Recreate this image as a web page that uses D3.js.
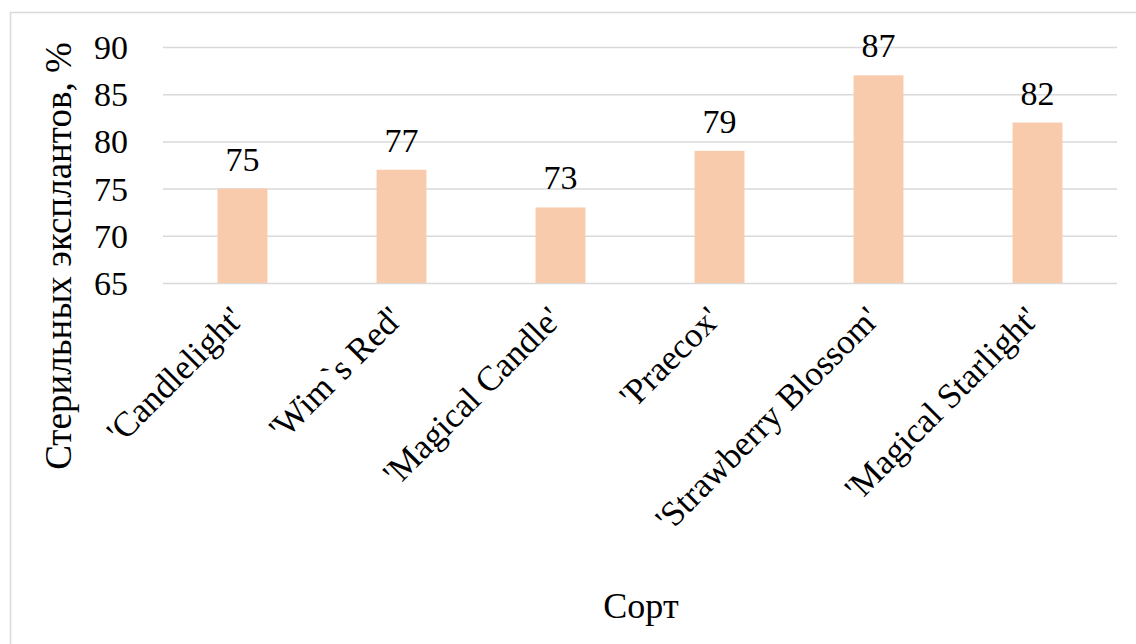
<!DOCTYPE html>
<meta charset="utf-8">
<style>
body { margin: 0; background: #fff; }
.grid line { stroke: #d9d9d9; stroke-width: 1.5; }
.grid .domain { display: none; }
.bar { fill: #f8cbad; }
</style>
<svg width="1136" height="644"></svg>
<script src="https://cdn.jsdelivr.net/npm/d3@7"></script>
<script>

var categories = ["'Candlelight'", "'Wim`s Red'", "'Magical Candle'", "'Praecox'", "'Strawberry Blossom'", "'Magical Starlight'"];
var values = [75, 77, 73, 79, 87, 82];
var yTicks = [65, 70, 75, 80, 85, 90];

var font = "'Liberation Serif', 'Times New Roman', serif";

var svg = d3.select("svg");

// outer frame
svg.append("rect")
    .attr("x", 10.5).attr("y", 12.5)
    .attr("width", 1200).attr("height", 700)
    .attr("fill", "none").attr("stroke", "#d9d9d9").attr("stroke-width", 1.5);

var x = d3.scaleBand()
    .domain(categories)
    .range([163, 1117])
    .paddingInner(0.686)
    .paddingOuter(0.343);

var y = d3.scaleLinear()
    .domain([65, 90])
    .range([283, 47]);

// gridlines
svg.append("g")
    .attr("class", "grid")
    .attr("transform", "translate(163,0)")
    .call(d3.axisLeft(y).tickValues(yTicks).tickSize(-954).tickFormat(""));

// y tick labels
svg.append("g")
    .selectAll("text")
    .data(yTicks)
  .enter().append("text")
    .attr("x", 128)
    .attr("y", function(d) { return y(d); })
    .attr("dy", "0.35em")
    .attr("text-anchor", "end")
    .style("font-family", font)
    .style("font-size", "34px")
    .text(function(d) { return d; });

// bars
svg.append("g")
    .selectAll("rect")
    .data(values)
  .enter().append("rect")
    .attr("class", "bar")
    .attr("x", function(d, i) { return x(categories[i]); })
    .attr("y", function(d) { return y(d); })
    .attr("width", x.bandwidth())
    .attr("height", function(d) { return y(65) - y(d); });

// value labels
svg.append("g")
    .selectAll("text")
    .data(values)
  .enter().append("text")
    .attr("x", function(d, i) { return x(categories[i]) + x.bandwidth() / 2; })
    .attr("y", function(d) { return y(d) - 18; })
    .attr("text-anchor", "middle")
    .style("font-family", font)
    .style("font-size", "34px")
    .text(function(d) { return d; });

// category labels
svg.append("g")
    .selectAll("text")
    .data(categories)
  .enter().append("text")
    .attr("transform", function(d) {
      return "translate(" + (x(d) + x.bandwidth() / 2 + 3) + ",321) rotate(-45)";
    })
    .attr("text-anchor", "end")
    .style("font-family", font)
    .style("font-size", "35px")
    .text(function(d) { return d; });

// axis titles
svg.append("text")
    .attr("transform", "translate(58,256) rotate(-90)")
    .attr("text-anchor", "middle")
    .attr("dy", "0.35em")
    .style("font-family", font)
    .style("font-size", "37px")
    .text("Стерильных эксплантов, %");

svg.append("text")
    .attr("x", 641)
    .attr("y", 605)
    .attr("dy", "0.35em")
    .attr("text-anchor", "middle")
    .style("font-family", font)
    .style("font-size", "36px")
    .text("Сорт");

</script>
